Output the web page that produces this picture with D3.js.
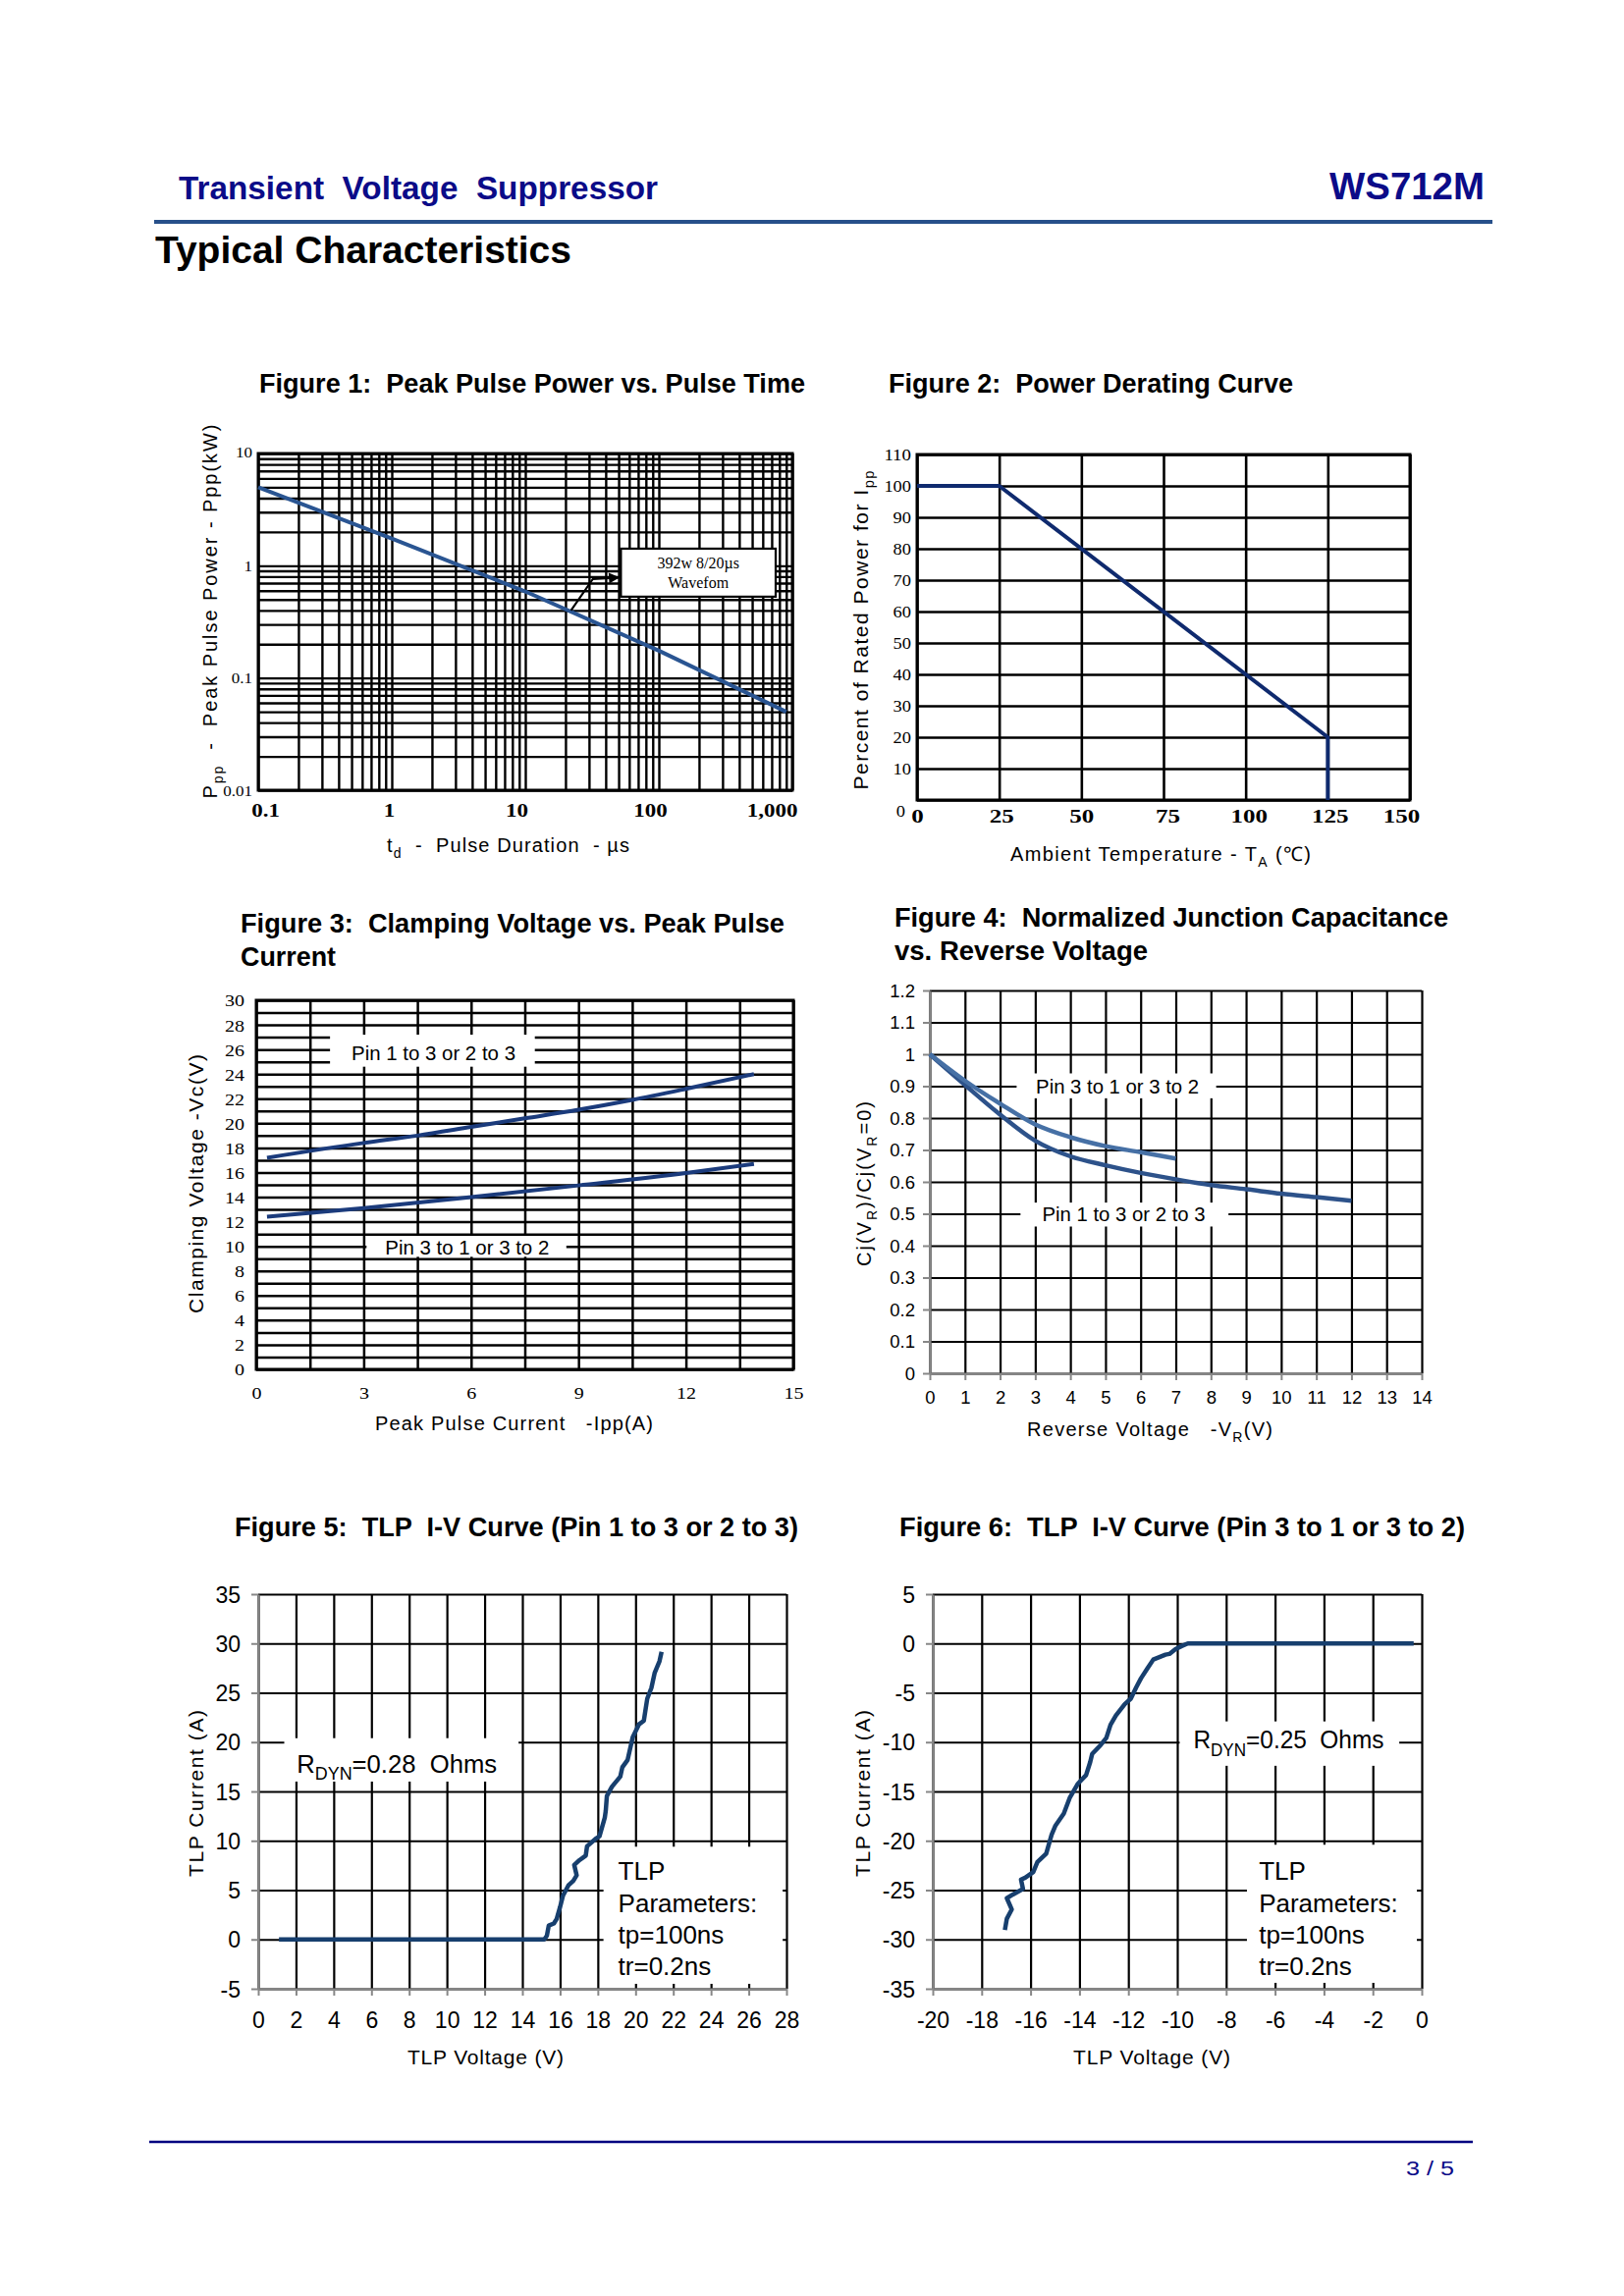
<!DOCTYPE html>
<html>
<head>
<meta charset="utf-8">
<title>WS712M Typical Characteristics</title>
<script src="https://cdn.jsdelivr.net/npm/d3@7/dist/d3.min.js"></script>
<style>
  html, body { margin:0; padding:0; background:#ffffff; }
  svg { display:block; }
  text { white-space: pre; }
</style>
</head>
<body>
<svg id="page" width="1654" height="2339" xmlns="http://www.w3.org/2000/svg"></svg>
<script>
// ================= DATA =================
// Figure 1: Peak Pulse Power vs Pulse Time (log-log)
const fig1PulseTimeUs = [0.1, 1, 10, 100, 900];
const fig1PeakPowerKW = [5.0, 1.75, 0.59, 0.175, 0.05];
const fig1XTickValues = [0.1, 1, 10, 100, 1000];
const fig1XTickLabels = ["0.1", "1", "10", "100", "1,000"];
const fig1YTickValues = [0.01, 0.1, 1, 10];
const fig1YTickLabels = ["0.01", "0.1", "1", "10"];
const fig1Annotation = ["392w 8/20\u00b5s", "Wavefom"];

// Figure 2: Power derating
const fig2TempC = [0, 25, 125, 125];
const fig2PercentPower = [100, 100, 20, 0];
const fig2XTickValues = [0, 25, 50, 75, 100, 125, 150];
const fig2XTickLabels = ["0", "25", "50", "75", "100", "125", "150"];
const fig2YTickValues = [0, 10, 20, 30, 40, 50, 60, 70, 80, 90, 100, 110];
const fig2YTickLabels = ["0", "10", "20", "30", "40", "50", "60", "70", "80", "90", "100", "110"];

// Figure 3: Clamping voltage vs peak pulse current
const fig3CurrentPin13 = [0.3, 3, 4.5, 6, 7.5, 9, 10.5, 12, 13.9];
const fig3VcPin13      = [17.2, 18.4, 19.0, 19.7, 20.4, 21.1, 21.9, 22.8, 24.0];
const fig3CurrentPin31 = [0.3, 3, 6, 9, 12, 13.9];
const fig3VcPin31      = [12.4, 13.1, 14.0, 14.95, 15.95, 16.7];
const fig3XTickValues = [0, 3, 6, 9, 12, 15];
const fig3XTickLabels = ["0", "3", "6", "9", "12", "15"];
const fig3YTickValues = [0, 2, 4, 6, 8, 10, 12, 14, 16, 18, 20, 22, 24, 26, 28, 30];
const fig3YTickLabels = ["0", "2", "4", "6", "8", "10", "12", "14", "16", "18", "20", "22", "24", "26", "28", "30"];
const fig3SeriesNames = ["Pin 1 to 3 or 2 to 3", "Pin 3 to 1 or 3 to 2"];

// Figure 4: Normalized junction capacitance
const fig4VoltagePin31 = [0, 1, 2, 3, 4, 5, 6, 7];
const fig4CapPin31     = [1.0, 0.917, 0.845, 0.78, 0.74, 0.712, 0.693, 0.673];
const fig4VoltagePin13 = [0, 1, 2, 3, 4, 5, 6, 7, 8, 9, 10, 11, 12];
const fig4CapPin13     = [1.0, 0.904, 0.811, 0.729, 0.68, 0.652, 0.628, 0.608, 0.59, 0.577, 0.563, 0.552, 0.541];
const fig4XTickValues = [0, 1, 2, 3, 4, 5, 6, 7, 8, 9, 10, 11, 12, 13, 14];
const fig4XTickLabels = ["0", "1", "2", "3", "4", "5", "6", "7", "8", "9", "10", "11", "12", "13", "14"];
const fig4YTickValues = [0, 0.1, 0.2, 0.3, 0.4, 0.5, 0.6, 0.7, 0.8, 0.9, 1.0, 1.1, 1.2];
const fig4YTickLabels = ["0", "0.1", "0.2", "0.3", "0.4", "0.5", "0.6", "0.7", "0.8", "0.9", "1", "1.1", "1.2"];
const fig4SeriesNames = ["Pin 3 to 1 or 3 to 2", "Pin 1 to 3 or 2 to 3"];

// Figure 5: TLP I-V (Pin 1 to 3 or 2 to 3)
const fig5VoltageV = [1.1, 15.16, 15.3, 15.4, 15.67, 15.82, 16.0, 16.15, 16.44, 16.7, 16.88, 16.75, 17.03, 17.36, 17.43, 17.93,
                      18.09, 18.37, 18.42, 18.48, 18.75, 19.19, 19.3, 19.58, 19.85, 20.18, 20.44, 20.62, 20.84, 21.01, 21.27, 21.38];
const fig5CurrentA = [0, 0, 0.38, 1.4, 1.62, 2.08, 3.29, 4.42, 5.48, 5.93, 6.5, 7.55, 8.04, 8.5, 9.44, 10.27,
                      10.46, 12.35, 13.03, 14.54, 15.49, 16.5, 17.45, 18.2, 20.5, 21.8, 22.17, 24.4, 25.5, 27.0, 28.2, 29.15];
const fig5XTickValues = [0, 2, 4, 6, 8, 10, 12, 14, 16, 18, 20, 22, 24, 26, 28];
const fig5XTickLabels = ["0", "2", "4", "6", "8", "10", "12", "14", "16", "18", "20", "22", "24", "26", "28"];
const fig5YTickValues = [-5, 0, 5, 10, 15, 20, 25, 30, 35];
const fig5YTickLabels = ["-5", "0", "5", "10", "15", "20", "25", "30", "35"];

// Figure 6: TLP I-V (Pin 3 to 1 or 3 to 2)
const fig6VoltageV = [-0.33, -9.57, -9.82, -10.07, -10.32, -10.48, -10.98, -11.23, -11.48, -11.68, -11.9, -12.15, -12.51, -12.73,
                      -12.9, -13.14, -13.48, -13.56, -13.73, -14.06, -14.39, -14.64, -14.98, -15.14, -15.36, -15.72, -15.89,
                      -16.22, -16.39, -16.31, -16.72, -16.97, -16.77, -16.97, -17.05];
const fig6CurrentA = [0, 0, -0.26, -0.57, -1.06, -1.13, -1.63, -2.57, -3.52, -4.46, -5.6, -6.16, -7.3, -8.24,
                      -9.57, -10.32, -11.19, -12.02, -13.35, -14.2, -15.6, -17.24, -18.45, -19.4, -21.3, -22.16, -23.17,
                      -23.74, -23.93, -24.88, -25.44, -25.82, -26.96, -27.9, -29.04];
const fig6XTickValues = [-20, -18, -16, -14, -12, -10, -8, -6, -4, -2, 0];
const fig6XTickLabels = ["-20", "-18", "-16", "-14", "-12", "-10", "-8", "-6", "-4", "-2", "0"];
const fig6YTickValues = [-35, -30, -25, -20, -15, -10, -5, 0, 5];
const fig6YTickLabels = ["-35", "-30", "-25", "-20", "-15", "-10", "-5", "0", "5"];

const tlpParamLines = ["TLP", "Parameters:", "tp=100ns", "tr=0.2ns"];

// ================= HELPERS =================
const SANS = "'Liberation Sans', Arial, Helvetica, sans-serif";
const SERIF = "'Liberation Serif', 'Times New Roman', Times, serif";
const NAVY = "#0b0b88";
const GRAY = "#878787";

const svg = d3.select("#page");
svg.append("rect").attr("width", 1654).attr("height", 2339).attr("fill", "#ffffff");

const defs = svg.append("defs");
defs.append("marker").attr("id", "arrowHead").attr("viewBox", "0 0 10 10")
  .attr("refX", 9).attr("refY", 5).attr("markerWidth", 6).attr("markerHeight", 5)
  .attr("orient", "auto")
  .append("path").attr("d", "M0,0 L10,5 L0,10 z").attr("fill", "#000");

function addText(parent, x, y, parts, o) {
  const t = parent.append("text").attr("x", x).attr("y", y)
    .attr("font-family", o.family || SANS).attr("font-size", o.size)
    .attr("font-weight", o.weight || "normal").attr("fill", o.fill || "#000")
    .attr("text-anchor", o.anchor || "start");
  if (o.rotate) t.attr("transform", `rotate(${o.rotate} ${x} ${y})`);
  if (o.len) t.attr("textLength", o.len).attr("lengthAdjust", o.adjust || "spacingAndGlyphs");
  if (typeof parts === "string") parts = [[parts, false]];
  let shift = 0;
  parts.forEach(([s, sub]) => {
    const target = sub ? o.size * 0.28 : 0;
    const ts = t.append("tspan").text(s);
    if (sub) ts.attr("font-size", o.size * 0.7);
    if (target !== shift) ts.attr("dy", target - shift);
    shift = target;
  });
  return t;
}

function gridLines(parent, xs, ys, xVals, yVals, box, color, w) {
  const g = parent.append("g");
  const gx = g.append("g").attr("transform", `translate(0,${box.b})`)
    .call(d3.axisBottom(xs).tickValues(xVals).tickSize(-(box.b - box.t)).tickSizeOuter(0).tickFormat(""));
  gx.select(".domain").remove();
  gx.selectAll(".tick line").attr("stroke", color).attr("stroke-width", w);
  const gy = g.append("g").attr("transform", `translate(${box.l},0)`)
    .call(d3.axisLeft(ys).tickValues(yVals).tickSize(-(box.r - box.l)).tickSizeOuter(0).tickFormat(""));
  gy.select(".domain").remove();
  gy.selectAll(".tick line").attr("stroke", color).attr("stroke-width", w);
  return g;
}

function grayAxes(parent, xs, ys, xVals, yVals, box) {
  const ax = parent.append("g").attr("transform", `translate(0,${box.b})`)
    .call(d3.axisBottom(xs).tickValues(xVals).tickSize(7).tickSizeOuter(0).tickFormat(""));
  ax.select(".domain").attr("stroke", GRAY).attr("stroke-width", 2.2);
  ax.selectAll(".tick line").attr("stroke", GRAY).attr("stroke-width", 2);
  const ay = parent.append("g").attr("transform", `translate(${box.l},0)`)
    .call(d3.axisLeft(ys).tickValues(yVals).tickSize(7).tickSizeOuter(0).tickFormat(""));
  ay.select(".domain").attr("stroke", GRAY).attr("stroke-width", 2.2);
  ay.selectAll(".tick line").attr("stroke", GRAY).attr("stroke-width", 2);
}

function charLen(s, cw) {
  let L = 0;
  for (const ch of s) L += (ch === "." || ch === ",") ? cw * 0.5 : (ch === "-" ? cw * 0.7 : cw);
  return L;
}

// orient: 'bottom' -> labels with baseline at o.y ; 'left' -> right-aligned at o.x
function tickLabels(parent, scale, orient, values, labels, o) {
  const ax = (orient === "bottom" ? d3.axisBottom(scale) : d3.axisLeft(scale))
    .tickValues(values).tickFormat((d, i) => labels[i]).tickSize(0).tickSizeOuter(0);
  const g = parent.append("g").call(ax);
  g.select(".domain").remove();
  g.selectAll(".tick line").remove();
  g.attr("font-family", o.family).attr("font-size", o.size).attr("font-weight", o.weight || "normal");
  const txt = g.selectAll(".tick text").attr("fill", "#000");
  if (orient === "bottom") txt.attr("y", o.y).attr("dy", null).attr("text-anchor", "middle");
  else txt.attr("x", o.x).attr("dy", "0.35em").attr("text-anchor", "end");
  if (o.dx) txt.attr("dx", (d, i) => o.dx[i]);
  if (o.dyArr) txt.attr("dy", (d, i) => o.dyArr[i]);
  if (o.cw) txt.each(function () {
    const s = this.textContent;
    d3.select(this).attr("textLength", charLen(s, o.cw)).attr("lengthAdjust", "spacingAndGlyphs");
  });
  return g;
}

function whiteBox(parent, xs, ys, x0, x1, y0, y1) {
  parent.append("rect")
    .attr("x", xs(x0)).attr("y", ys(y1))
    .attr("width", xs(x1) - xs(x0)).attr("height", ys(y0) - ys(y1))
    .attr("fill", "#ffffff");
}

function drawCurve(parent, xs, ys, X, Y, color, w, curveType) {
  const pts = X.map((x, i) => [x, Y[i]]);
  parent.append("path").datum(pts)
    .attr("d", d3.line().x(d => xs(d[0])).y(d => ys(d[1])).curve(curveType || d3.curveLinear))
    .attr("fill", "none").attr("stroke", color).attr("stroke-width", w)
    .attr("stroke-linejoin", "round").attr("stroke-linecap", "butt");
}

function border(parent, box, w) {
  parent.append("rect").attr("x", box.l).attr("y", box.t)
    .attr("width", box.r - box.l).attr("height", box.b - box.t)
    .attr("fill", "none").attr("stroke", "#000").attr("stroke-width", w);
}

// ================= PAGE HEADER =================
addText(svg, 182, 203, "Transient  Voltage  Suppressor", {size: 33, weight: "bold", fill: NAVY, len: 488});
addText(svg, 1354, 203, "WS712M", {size: 38, weight: "bold", fill: NAVY, len: 158});
svg.append("line").attr("x1", 157).attr("x2", 1520).attr("y1", 226).attr("y2", 226)
  .attr("stroke", "#27508a").attr("stroke-width", 4);
addText(svg, 158, 268, "Typical Characteristics", {size: 38, weight: "bold", fill: "#000", len: 424});

// ================= FIGURE 1 =================
{
  const g = svg.append("g");
  const box = {l: 263, r: 807, t: 462, b: 805};
  const xs = d3.scaleLog().domain([0.1, 1000]).range([box.l, box.r]);
  const ys = d3.scaleLog().domain([0.01, 10]).range([box.b, box.t]);
  addText(g, 264, 400, "Figure 1:  Peak Pulse Power vs. Pulse Time", {size: 27, weight: "bold", len: 556});
  gridLines(g, xs, ys, xs.ticks(), ys.ticks(), box, "#000", 2.4);
  border(g, box, 3);
  drawCurve(g, xs, ys, fig1PulseTimeUs, fig1PeakPowerKW, "#2a5592", 4);
  // annotation
  const bx0 = 52, bx1 = 750, by0 = 0.53, by1 = 1.42;
  g.append("rect").attr("x", xs(bx0)).attr("y", ys(by1)).attr("width", xs(bx1) - xs(bx0))
    .attr("height", ys(by0) - ys(by1)).attr("fill", "#fff").attr("stroke", "#000").attr("stroke-width", 2.2);
  const cx = (xs(bx0) + xs(bx1)) / 2;
  addText(g, cx, ys(by1) + 20, fig1Annotation[0], {size: 16, family: SERIF, anchor: "middle"});
  addText(g, cx, ys(by1) + 40, fig1Annotation[1], {size: 16, family: SERIF, anchor: "middle"});
  const arrowPts = [[22, 0.40], [32, 0.76], [50, 0.785]];
  g.append("path").datum(arrowPts)
    .attr("d", d3.line().x(d => xs(d[0])).y(d => ys(d[1])))
    .attr("fill", "none").attr("stroke", "#000").attr("stroke-width", 2.2)
    .attr("marker-end", "url(#arrowHead)");
  tickLabels(g, ys, "left", fig1YTickValues, fig1YTickLabels, {family: SERIF, size: 15, x: 257, cw: 8.5, dyArr: ["0.35em","0.35em","0.35em","0.2em"]});
  tickLabels(g, xs, "bottom", fig1XTickValues, fig1XTickLabels, {family: SERIF, size: 18, weight: "bold", y: 832, cw: 11.5, dx: [7, -3, -9, -9, -21]});
  addText(g, 221, 623, [["P", false], ["pp", true], ["  -  Peak Pulse Power - Ppp(kW)", false]],
    {size: 20, anchor: "middle", rotate: -90, len: 381, adjust: "spacing"});
  addText(g, 394, 868, [["t", false], ["d", true], ["  -  Pulse Duration  - \u00b5s", false]],
    {size: 20, len: 247, adjust: "spacing"});
}

// ================= FIGURE 2 =================
{
  const g = svg.append("g");
  const box = {l: 934, r: 1436, t: 463, b: 815};
  const xs = d3.scaleLinear().domain([0, 150]).range([box.l, box.r]);
  const ys = d3.scaleLinear().domain([0, 110]).range([box.b, box.t]);
  addText(g, 905, 400, "Figure 2:  Power Derating Curve", {size: 27, weight: "bold", len: 412});
  gridLines(g, xs, ys, fig2XTickValues, fig2YTickValues, box, "#000", 2.6);
  border(g, box, 3);
  drawCurve(g, xs, ys, fig2TempC, fig2PercentPower, "#0f2a6e", 4);
  tickLabels(g, ys, "left", fig2YTickValues, fig2YTickLabels, {family: SERIF, size: 16, x: 928, cw: 9.2,
    dx: [-6, 0, 0, 0, 0, 0, 0, 0, 0, 0, 0, 0], dyArr: ["1.0em", "0.35em", "0.35em", "0.35em", "0.35em", "0.35em", "0.35em", "0.35em", "0.35em", "0.35em", "0.35em", "0.35em"]});
  tickLabels(g, xs, "bottom", fig2XTickValues, fig2XTickLabels, {family: SERIF, size: 18, weight: "bold", y: 838, cw: 12.5, dx: [0, 2, 0, 4, 3, 2, -9]});
  addText(g, 884, 642, [["Percent of Rated Power for I", false], ["pp", true]],
    {size: 21, anchor: "middle", rotate: -90, len: 325, adjust: "spacing"});
  addText(g, 1029, 877, [["Ambient Temperature - T", false], ["A", true], [" (\u2103)", false]],
    {size: 20, len: 306, adjust: "spacing"});
}

// ================= FIGURE 3 =================
{
  const g = svg.append("g");
  const box = {l: 261, r: 808, t: 1019, b: 1395};
  const xs = d3.scaleLinear().domain([0, 15]).range([box.l, box.r]);
  const ys = d3.scaleLinear().domain([0, 30]).range([box.b, box.t]);
  addText(g, 245, 950, "Figure 3:  Clamping Voltage vs. Peak Pulse", {size: 27, weight: "bold", len: 554});
  addText(g, 245, 984, "Current", {size: 27, weight: "bold", len: 97});
  gridLines(g, xs, ys, d3.range(0, 15.01, 1.5), d3.range(0, 31, 1), box, "#000", 2.5);
  border(g, box, 3);
  whiteBox(g, xs, ys, 2.06, 7.78, 24.6, 27.2);
  whiteBox(g, xs, ys, 3.08, 8.66, 9.15, 10.85);
  drawCurve(g, xs, ys, fig3CurrentPin13, fig3VcPin13, "#1b3b7c", 4, d3.curveMonotoneX);
  drawCurve(g, xs, ys, fig3CurrentPin31, fig3VcPin31, "#1b3b7c", 4, d3.curveMonotoneX);
  addText(g, xs(4.95), ys(25.15), fig3SeriesNames[0], {size: 20, anchor: "middle", len: 167});
  addText(g, xs(5.89), ys(9.35), fig3SeriesNames[1], {size: 20, anchor: "middle", len: 167});
  tickLabels(g, ys, "left", fig3YTickValues, fig3YTickLabels, {family: SERIF, size: 17, x: 249, cw: 10});
  tickLabels(g, xs, "bottom", fig3XTickValues, fig3XTickLabels, {family: SERIF, size: 17, y: 1425, cw: 10});
  addText(g, 207, 1206, "Clamping Voltage -Vc(V)", {size: 21, anchor: "middle", rotate: -90, len: 264, adjust: "spacing"});
  addText(g, 382, 1457, "Peak Pulse Current   -Ipp(A)", {size: 20, len: 283, adjust: "spacing"});
}

// ================= FIGURE 4 =================
{
  const g = svg.append("g");
  const box = {l: 947, r: 1448, t: 1009, b: 1399};
  const xs = d3.scaleLinear().domain([0, 14]).range([box.l, box.r]);
  const ys = d3.scaleLinear().domain([0, 1.2]).range([box.b, box.t]);
  addText(g, 911, 944, "Figure 4:  Normalized Junction Capacitance", {size: 27, weight: "bold", len: 564});
  addText(g, 911, 978, "vs. Reverse Voltage", {size: 27, weight: "bold", len: 258});
  gridLines(g, xs, ys, fig4XTickValues, fig4YTickValues, box, "#000", 2.2);
  grayAxes(g, xs, ys, fig4XTickValues, fig4YTickValues, box);
  whiteBox(g, xs, ys, 2.47, 8.15, 0.862, 0.94);
  whiteBox(g, xs, ys, 2.58, 8.5, 0.46, 0.535);
  drawCurve(g, xs, ys, fig4VoltagePin13, fig4CapPin13, "#2d528a", 4.5, d3.curveMonotoneX);
  drawCurve(g, xs, ys, fig4VoltagePin31, fig4CapPin31, "#4670a5", 4.5, d3.curveMonotoneX);
  addText(g, xs(5.34), ys(0.878), fig4SeriesNames[0], {size: 20, anchor: "middle", len: 166});
  addText(g, xs(5.52), ys(0.478), fig4SeriesNames[1], {size: 20, anchor: "middle", len: 166});
  tickLabels(g, ys, "left", fig4YTickValues, fig4YTickLabels, {family: SANS, size: 18.5, x: 932});
  tickLabels(g, xs, "bottom", fig4XTickValues, fig4XTickLabels, {family: SANS, size: 18.5, y: 1430});
  addText(g, 887, 1206, [["Cj(V", false], ["R", true], [")/Cj(V", false], ["R", true], ["=0)", false]],
    {size: 20, anchor: "middle", rotate: -90, len: 168, adjust: "spacing"});
  addText(g, 1046, 1463, [["Reverse Voltage   -V", false], ["R", true], ["(V)", false]],
    {size: 20, len: 250, adjust: "spacing"});
}

// ================= FIGURE 5 =================
{
  const g = svg.append("g");
  const box = {l: 263, r: 801, t: 1624, b: 2026};
  const xs = d3.scaleLinear().domain([0, 28]).range([box.l, box.r]);
  const ys = d3.scaleLinear().domain([-5, 35]).range([box.b, box.t]);
  addText(g, 239, 1565, "Figure 5:  TLP  I-V Curve (Pin 1 to 3 or 2 to 3)", {size: 27, weight: "bold", len: 574});
  gridLines(g, xs, ys, fig5XTickValues, fig5YTickValues, box, "#000", 2.2);
  grayAxes(g, xs, ys, fig5XTickValues, fig5YTickValues, box);
  whiteBox(g, xs, ys, 1.38, 13.8, 16.0, 20.4);
  whiteBox(g, xs, ys, 18.3, 27.8, -4.5, 9.4);
  drawCurve(g, xs, ys, fig5VoltageV, fig5CurrentA, "#173f6e", 4.5);
  addText(g, xs(2.04), ys(16.9), [["R", false], ["DYN", true], ["=0.28  Ohms", false]], {size: 26, len: 204});
  [6.0, 2.8, -0.4, -3.6].forEach((v, i) => addText(g, xs(19.08), ys(v), tlpParamLines[i], {size: 26}));
  tickLabels(g, ys, "left", fig5YTickValues, fig5YTickLabels, {family: SANS, size: 23, x: 245});
  tickLabels(g, xs, "bottom", fig5XTickValues, fig5XTickLabels, {family: SANS, size: 23, y: 2066});
  addText(g, 207, 1827, "TLP Current (A)", {size: 21, anchor: "middle", rotate: -90, len: 170, adjust: "spacing"});
  addText(g, 415, 2103, "TLP Voltage (V)", {size: 21, len: 159, adjust: "spacing"});
}

// ================= FIGURE 6 =================
{
  const g = svg.append("g");
  const box = {l: 950, r: 1448, t: 1624, b: 2026};
  const xs = d3.scaleLinear().domain([-20, 0]).range([box.l, box.r]);
  const ys = d3.scaleLinear().domain([-35, 5]).range([box.b, box.t]);
  addText(g, 916, 1565, "Figure 6:  TLP  I-V Curve (Pin 3 to 1 or 3 to 2)", {size: 27, weight: "bold", len: 576});
  gridLines(g, xs, ys, fig6XTickValues, fig6YTickValues, box, "#000", 2.2);
  grayAxes(g, xs, ys, fig6XTickValues, fig6YTickValues, box);
  whiteBox(g, xs, ys, -9.9, -0.92, -12.4, -7.9);
  whiteBox(g, xs, ys, -7.15, -0.2, -34.4, -20.4);
  drawCurve(g, xs, ys, fig6VoltageV, fig6CurrentA, "#173f6e", 4.5);
  addText(g, xs(-9.34), ys(-10.65), [["R", false], ["DYN", true], ["=0.25  Ohms", false]], {size: 26, len: 194});
  [-23.95, -27.2, -30.4, -33.65].forEach((v, i) => addText(g, xs(-6.66), ys(v), tlpParamLines[i], {size: 26}));
  tickLabels(g, ys, "left", fig6YTickValues, fig6YTickLabels, {family: SANS, size: 23, x: 932});
  tickLabels(g, xs, "bottom", fig6XTickValues, fig6XTickLabels, {family: SANS, size: 23, y: 2066});
  addText(g, 886, 1827, "TLP Current (A)", {size: 21, anchor: "middle", rotate: -90, len: 170, adjust: "spacing"});
  addText(g, 1093, 2103, "TLP Voltage (V)", {size: 21, len: 160, adjust: "spacing"});
}

// ================= FOOTER =================
svg.append("line").attr("x1", 152).attr("x2", 1500).attr("y1", 2182).attr("y2", 2182)
  .attr("stroke", "#00007f").attr("stroke-width", 2.5);
addText(svg, 1432, 2216, "3 / 5", {size: 20, fill: NAVY, len: 49});
</script>
</body>
</html>
